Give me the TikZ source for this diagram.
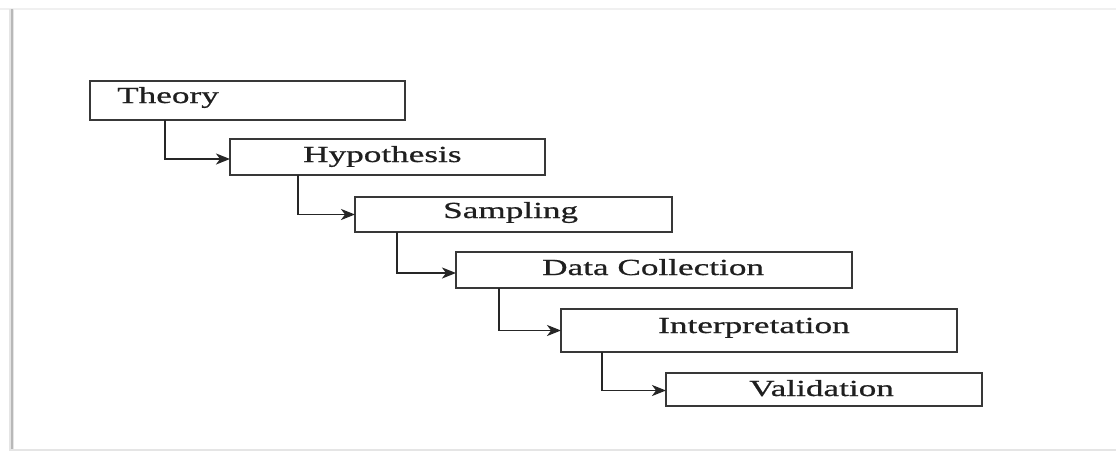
\documentclass[tikz,border=0pt]{standalone}
\usepackage{fontspec}
\setmainfont[FakeStretch=1.53,FakeBold=0.8]{Liberation Serif}
\usetikzlibrary{arrows.meta}
\tikzset{
  stagebox/.style={draw=black!78, line width=2.2pt, anchor=north west, inner sep=0pt, outer sep=0pt, fill=white},
  lbl/.style={anchor=base west, inner sep=0pt, text=black!88, font=\fontsize{23}{27}\selectfont},
  arr/.style={draw=black!85, line width=1.8pt, -{Stealth[length=14pt,width=11pt,inset=4pt]}},
}
\begin{document}
\begin{tikzpicture}[x=1pt,y=-1pt]
\useasboundingbox (0,0) rectangle (1116,451);
\fill[white] (0,0) rectangle (1116,451);
% frame with soft shadow
\fill[black!6] (0,8) rectangle (1116,10);
\fill[black!10] (9,9) rectangle (14,451);
\fill[black!28] (11,9) rectangle (13,451);
\fill[black!10] (11,449) rectangle (1116,451);
% boxes
\node[stagebox, minimum width=315pt, minimum height=39pt] (theory) at (90,81) {};
\node[stagebox, minimum width=315pt, minimum height=36pt] (hypo) at (230,139) {};
\node[stagebox, minimum width=317pt, minimum height=35pt] (samp) at (355,197) {};
\node[stagebox, minimum width=396pt, minimum height=36pt] (data) at (456,252) {};
\node[stagebox, minimum width=396pt, minimum height=43pt] (interp) at (561,309) {};
\node[stagebox, minimum width=316pt, minimum height=33pt] (valid) at (666,373) {};
% labels
\node[lbl] (theoryT) at (117,103) {Theory};
\node[lbl] (hypoT) at (303,162) {Hypothesis};
\node[lbl] (sampT) at (443,218) {Sampling};
\node[lbl] (dataT) at (542,275) {Data Collection};
\node[lbl] (interpT) at (658,333) {Interpretation};
\node[lbl] (validT) at (749,396) {Validation};
% connectors
\draw[arr] ([xshift=75pt]theory.south west) |- ([yshift=-2pt]hypo.west);
\draw[arr] ([xshift=68pt]hypo.south west) |- (samp.west);
\draw[arr] ([xshift=42pt]samp.south west) |- ([yshift=-3pt]data.west);
\draw[arr] ([xshift=43pt]data.south west) |- (interp.west);
\draw[arr] ([xshift=41pt]interp.south west) |- ([yshift=-1pt]valid.west);
\end{tikzpicture}
\end{document}
